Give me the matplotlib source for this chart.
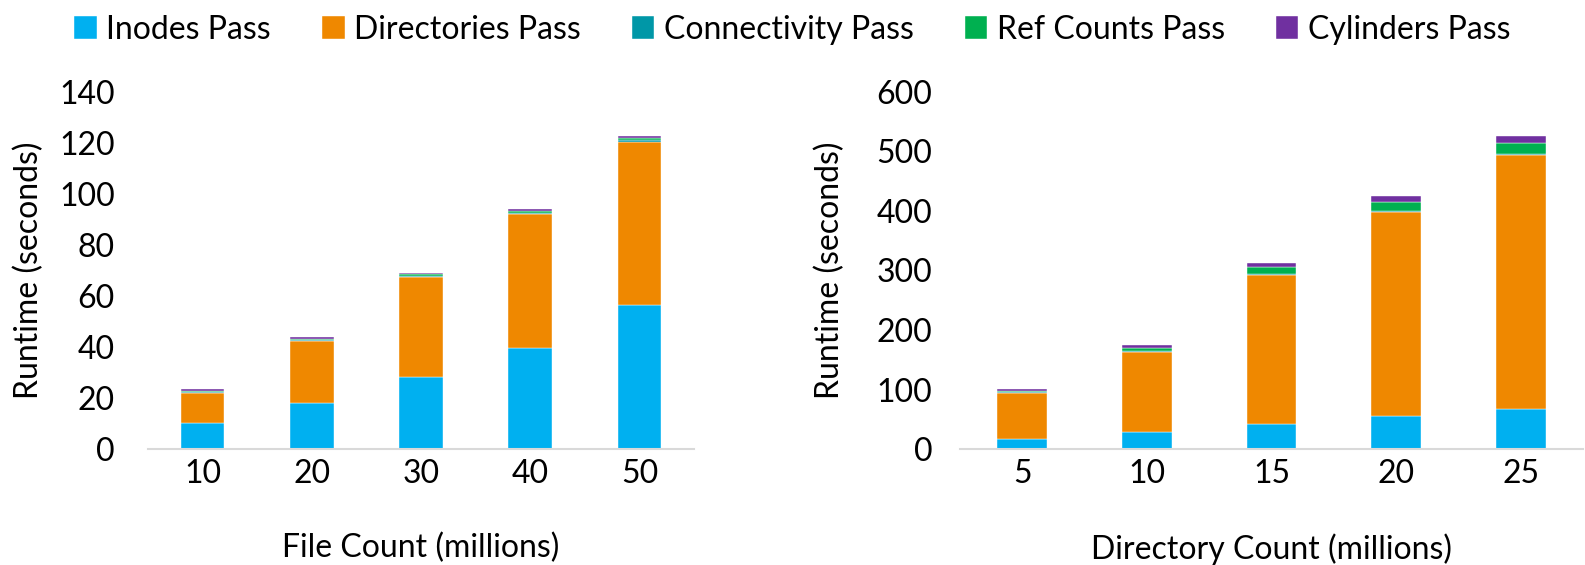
import matplotlib.pyplot as plt
import numpy as np

plt.rcParams['font.family'] = ['Lato', 'DejaVu Sans']

series = ['Inodes Pass', 'Directories Pass', 'Connectivity Pass', 'Ref Counts Pass', 'Cylinders Pass']
colors = ['#00B0F0', '#EF8800', '#0097A7', '#00B050', '#7030A0']

# file count chart (seconds)
file_counts = ['10', '20', '30', '40', '50']
file_inodes = [10.1, 18.0, 28.4, 39.8, 56.4]
file_dirs = [12.0, 24.5, 39.1, 52.2, 64.0]
file_conn = [0.2, 0.3, 0.4, 0.5, 0.6]
file_ref = [0.6, 0.5, 0.8, 0.7, 0.9]
file_cyl = [0.6, 0.7, 0.5, 0.8, 0.8]

# directory count chart (seconds)
dir_counts = ['5', '10', '15', '20', '25']
dir_inodes = [16, 28, 42, 56, 68]
dir_dirs = [78.6, 135, 250, 342, 426]
dir_conn = [0.5, 1, 1.5, 2, 2.5]
dir_ref = [3, 6, 12, 15, 18]
dir_cyl = [3, 5, 7, 10, 12]

fs = 23

fig = plt.figure(figsize=(15.85, 5.65), dpi=100)
ax1 = fig.add_axes([148 / 1585, 116 / 565, 546 / 1585, 357 / 565])
ax2 = fig.add_axes([960 / 1585, 116 / 565, 623 / 1585, 357 / 565])


def draw(ax, cats, data, ymax, step, xlabel, ypad, ylab_x):
    x = np.arange(len(cats))
    bottom = np.zeros(len(cats))
    for name, vals, c in zip(series, data, colors):
        ax.bar(x, vals, 0.4, bottom=bottom, color=c, label=name,
               edgecolor='white', linewidth=0.3)
        bottom += np.array(vals)
    ax.set_xlim(-0.5, len(cats) - 0.5)
    ax.set_ylim(0, ymax)
    ax.set_yticks(np.arange(0, ymax + 1, step))
    ax.set_xticks(x)
    ax.set_xticklabels(cats)
    for s in ['top', 'right', 'left']:
        ax.spines[s].set_visible(False)
    ax.spines['bottom'].set_color('#D9D9D9')
    ax.spines['bottom'].set_linewidth(1.5)
    ax.tick_params(length=0, labelsize=fs)
    ax.tick_params(axis='x', pad=7)
    ax.tick_params(axis='y', pad=ypad)
    ax.set_xlabel(xlabel, fontsize=fs)
    ax.set_ylabel('Runtime (seconds)', fontsize=fs)
    ax.xaxis.set_label_coords(0.5, -0.235)
    ax.yaxis.set_label_coords(ylab_x, 0.5)


draw(ax1, file_counts, [file_inodes, file_dirs, file_conn, file_ref, file_cyl],
     140, 20, 'File Count (millions)', 24, -0.19)
draw(ax2, dir_counts, [dir_inodes, dir_dirs, dir_conn, dir_ref, dir_cyl],
     600, 100, 'Directory Count (millions)', 20, -0.185)

handles, labels = ax1.get_legend_handles_labels()
fig.legend(handles, labels, loc='upper center', bbox_to_anchor=(0.5, 1.025), ncol=5,
           frameon=False, fontsize=fs, handlelength=0.7, handleheight=0.7,
           handletextpad=0.3, columnspacing=1.6)

fig.savefig('out.png', dpi=100)
